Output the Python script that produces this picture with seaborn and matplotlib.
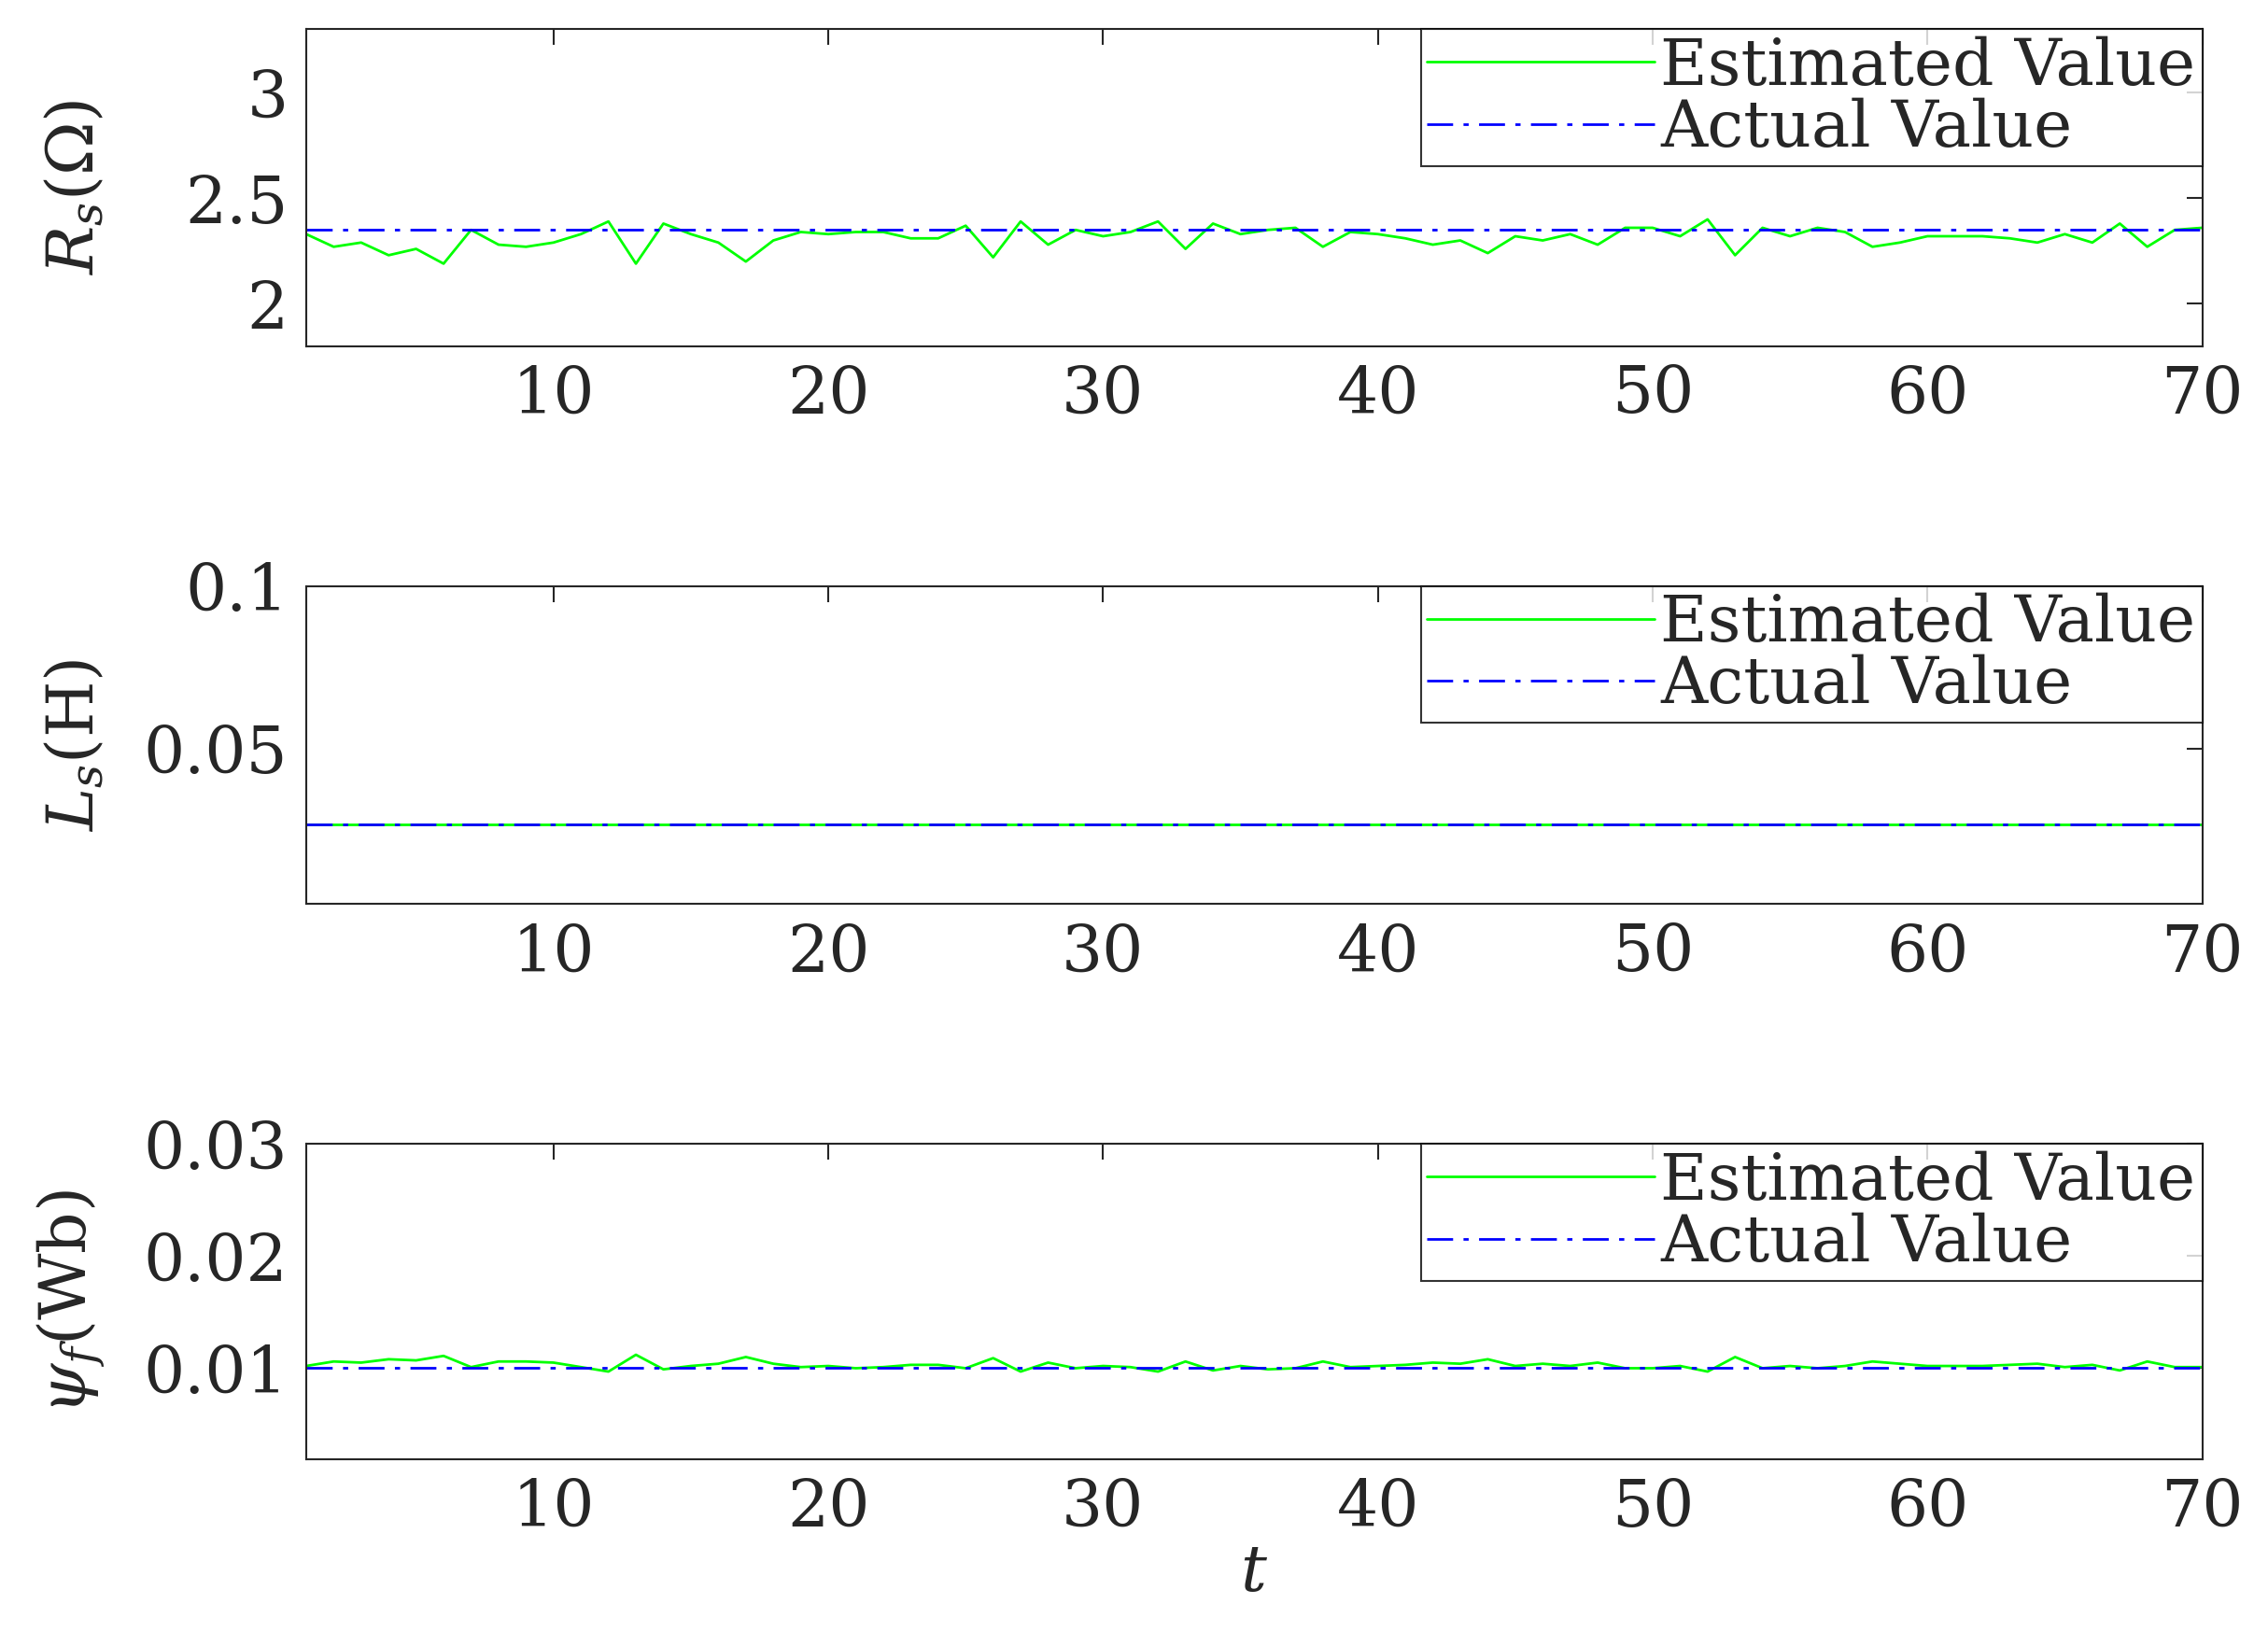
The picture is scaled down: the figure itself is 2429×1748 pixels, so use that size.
import numpy as np
import pandas as pd
import seaborn as sns
import matplotlib
matplotlib.use("Agg")
import matplotlib.pyplot as plt

t = list(range(1, 71))
rs_est = [2.33,2.27,2.29,2.23,2.26,2.19,2.35,2.28,2.27,2.29,2.33,2.39,2.19,2.38,2.33,2.29,2.20,2.30,2.34,2.33,
          2.34,2.34,2.31,2.31,2.37,2.22,2.39,2.28,2.35,2.32,2.34,2.39,2.26,2.38,2.33,2.35,2.36,2.27,2.34,2.33,
          2.31,2.28,2.30,2.24,2.32,2.30,2.33,2.28,2.36,2.36,2.32,2.40,2.23,2.36,2.32,2.36,2.34,2.27,2.29,2.32,
          2.32,2.32,2.31,2.29,2.33,2.29,2.38,2.27,2.35,2.36]
rs_act = 2.35
ls_est = [0.0268] * 70
ls_act = 0.0268
psi_est = [0.0102,0.0106,0.0105,0.0108,0.0107,0.0111,0.0101,0.0106,0.0106,0.0105,0.0101,0.0097,0.0112,0.0099,0.0102,
           0.0104,0.0110,0.0104,0.0101,0.0102,0.0100,0.0101,0.0103,0.0103,0.0100,0.0109,0.0097,0.0105,0.0100,0.0102,
           0.0101,0.0097,0.0106,0.0098,0.0102,0.0099,0.0100,0.0106,0.0101,0.0102,0.0103,0.0105,0.0104,0.0108,0.0102,
           0.0104,0.0102,0.0105,0.0100,0.0100,0.0102,0.0097,0.0110,0.0100,0.0102,0.0100,0.0102,0.0106,0.0104,0.0102,
           0.0102,0.0102,0.0103,0.0104,0.0101,0.0103,0.0098,0.0106,0.0101,0.0101]
psi_act = 0.01

xticks = [10, 20, 30, 40, 50, 60, 70]
panels = [
    (rs_est, rs_act, r"$R_s$(Ω)", (1.8, 3.3), [2, 2.5, 3], ["2", "2.5", "3"]),
    (ls_est, ls_act, r"$L_s$(H)", (0.0022, 0.1), [0.05, 0.1], ["0.05", "0.1"]),
    (psi_est, psi_act, r"$\psi_f$(Wb)", (0.0019, 0.03), [0.01, 0.02, 0.03], ["0.01", "0.02", "0.03"]),
]

sns.set_style("white")
plt.rcParams["font.family"] = "DejaVu Serif"
plt.rcParams["mathtext.fontset"] = "dejavuserif"
fig = plt.figure(figsize=(24.29, 17.48), dpi=100)
bounds = [(0.788, 0.982), (0.446, 0.641), (0.106, 0.299)]
fs = 50
for (est, act, ylab, ylim, yt, ytl), (b, tp) in zip(panels, bounds):
    ax = fig.add_axes([0.135, b, 0.971 - 0.135, tp - b])
    df = pd.DataFrame({"t": t, "Estimated Value": est, "Actual Value": [act] * len(t)})
    sns.lineplot(data=df, x="t", y="Estimated Value", ax=ax, color="#00ff00", lw=2, label="Estimated Value")
    sns.lineplot(data=df, x="t", y="Actual Value", ax=ax, color="#0000ff", lw=2,
                 dashes=False, label="Actual Value")
    ax.lines[-1].set_dashes([10, 4, 2, 4])
    ax.set_xlim(1, 70)
    ax.set_ylim(*ylim)
    ax.set_xticks(xticks)
    ax.set_xticklabels([str(x) for x in xticks])
    ax.set_yticks(yt)
    ax.set_yticklabels(ytl)
    ax.tick_params(direction="in", length=12, width=1.5, labelsize=fs, top=True, right=True, pad=14)
    for s in ax.spines.values():
        s.set_linewidth(1.5)
        s.set_color("#262626")
    ax.set_xlabel("")
    ax.set_ylabel(ylab, fontsize=fs)
    ax.yaxis.set_label_coords(-0.105, 0.5)
    leg = ax.legend(loc="upper right", fontsize=fs, frameon=True, fancybox=False,
                    edgecolor="black", borderpad=0.1, labelspacing=0.0, handlelength=3.5,
                    handletextpad=0.1, borderaxespad=0.0)
    leg.get_frame().set_linewidth(1.5)
    if b < 0.2:
        ax.set_xlabel("$t$", fontsize=fs, labelpad=2)

fig.savefig("out.png", dpi=100)
